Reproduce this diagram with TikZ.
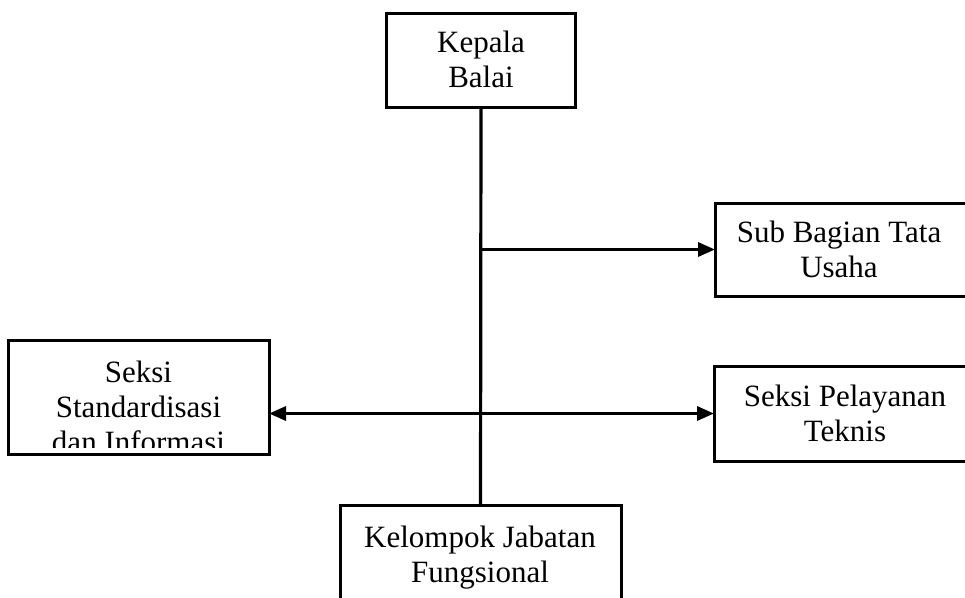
\documentclass[tikz,border=0pt]{standalone}
\usepackage{fontspec}
\setmainfont{Liberation Serif}
\usetikzlibrary{arrows.meta}
\begin{document}
\begin{tikzpicture}[x=1pt,y=-1pt,
  box/.style={draw,line width=3pt,inner sep=0pt,outer sep=0pt},
  txt/.style={font=\fontsize{31}{35}\selectfont,align=center,anchor=base,inner sep=0pt},
  link/.style={line width=3.2pt},
  arr/.style={link,-{Triangle[length=17pt,width=14pt]}},
  darr/.style={link,{Triangle[length=17pt,width=14pt]}-{Triangle[length=17pt,width=14pt]}}]
\clip (0,0) rectangle (965,597);
\fill[white] (0,0) rectangle (965,597);
% boxes
\node[box,minimum width=189pt,minimum height=94pt] (kb) at (481,60) {};
\node[box,minimum width=253pt,minimum height=93pt] (sb) at (841.5,249.5) {};
\node[box,minimum width=262pt,minimum height=95pt] (sp) at (845,413.5) {};
\node[box,minimum width=261pt,minimum height=114pt] (ss) at (138.5,397) {};
\node[box,minimum width=281pt,minimum height=106pt] (kj) at (480.5,558) {};
% texts (anchor base = last line's baseline)
\node[txt] (kbt) at (481,87) {Kepala\\Balai};
\node[txt] (sbt) at (839,277) {Sub Bagian Tata\\Usaha};
\node[txt] (spt) at (845,441) {Seksi Pelayanan\\Teknis};
\node[txt] (kjt) at (480,582) {Kelompok Jabatan\\Fungsional};
\begin{scope}
  \clip (8,340) rectangle (269,447);
  \node[txt] (sst) at (138.5,452) {Seksi\\Standardisasi\\dan Informasi};
\end{scope}
% connectors
\draw[link] (kb.south) -- (kj.north);
\coordinate (j1) at (kb.south |- sb.west);
\draw[arr] (j1) -- (sb.west);
\draw[darr] (ss.east |- sp.west) -- (sp.west);
\end{tikzpicture}
\end{document}
